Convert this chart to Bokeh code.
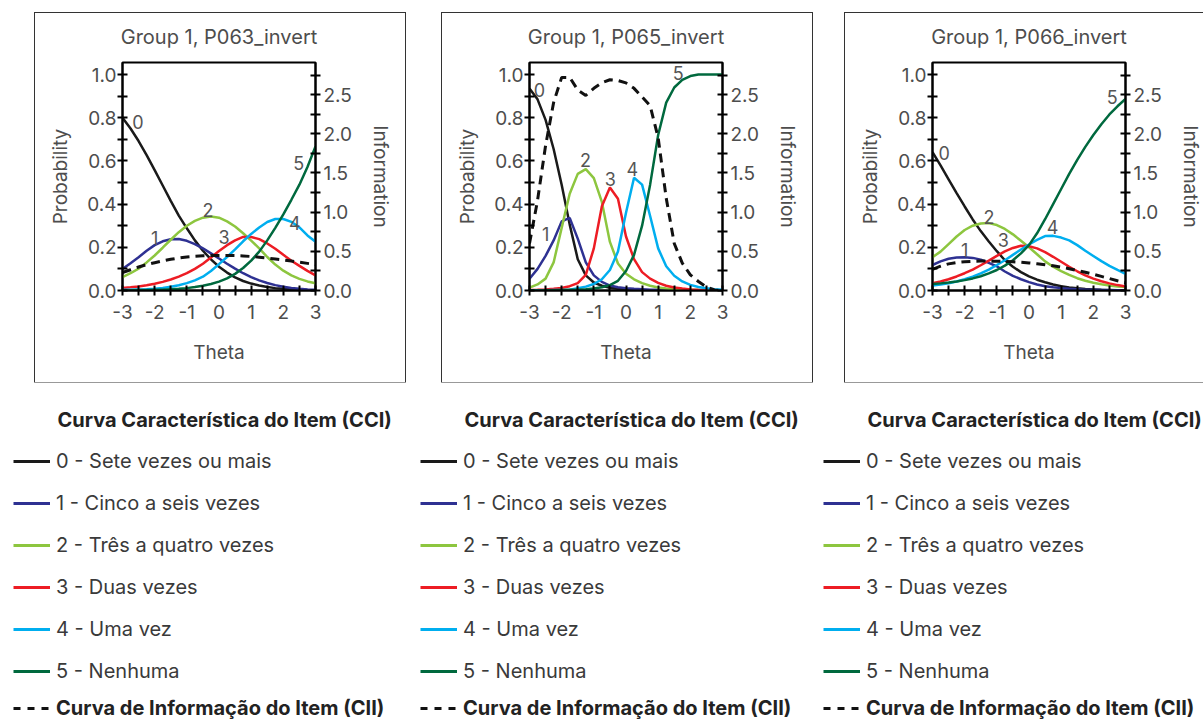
from bokeh.plotting import figure
from bokeh.models import (Range1d, LinearAxis, Legend, LegendItem, Label,
                          ColumnDataSource, FixedTicker, PrintfTickFormatter, Spacer)
from bokeh.layouts import row, column
from bokeh.core.properties import value
from bokeh.embed import file_html
from bokeh.resources import INLINE

FONT = "Inter"
NAN = float("nan")

# ---------------- data ----------------
theta = [-3.0, -2.75, -2.5, -2.25, -2.0, -1.75, -1.5, -1.25, -1.0, -0.75, -0.5, -0.25,
         0.0, 0.25, 0.5, 0.75, 1.0, 1.25, 1.5, 1.75, 2.0, 2.25, 2.5, 2.75, 3.0]

categories = ["0 - Sete vezes ou mais", "1 - Cinco a seis vezes", "2 - Três a quatro vezes",
              "3 - Duas vezes", "4 - Uma vez", "5 - Nenhuma"]
curve_ids = ["0", "1", "2", "3", "4", "5"]
legend_title = "Curva Característica do Item (CCI)"
info_label = "Curva de Informação do Item (CII)"
item_titles = ["Group 1, P063_invert", "Group 1, P065_invert", "Group 1, P066_invert"]

# P063
p063_cat0 = [0.800, 0.750, 0.692, 0.627, 0.557, 0.486, 0.415, 0.347, 0.288, 0.232, 0.184, 0.144,
             0.110, 0.083, 0.061, 0.044, 0.032, 0.023, 0.016, 0.011, 0.008, 0.005, 0.004, 0.002, 0.001]
p063_cat1 = [0.100, 0.126, 0.154, 0.184, 0.210, 0.228, 0.237, 0.238, 0.230, 0.215, 0.195, 0.172,
             0.148, 0.124, 0.101, 0.080, 0.062, 0.047, 0.035, 0.025, 0.017, 0.012, 0.008, 0.005, 0.003]
p063_cat2 = [0.062, 0.080, 0.101, 0.130, 0.162, 0.198, 0.235, 0.270, 0.300, 0.322, 0.337, 0.343,
             0.337, 0.320, 0.296, 0.265, 0.231, 0.195, 0.155, 0.120, 0.092, 0.070, 0.054, 0.042, 0.034]
p063_cat3 = [0.012, 0.015, 0.019, 0.024, 0.031, 0.040, 0.051, 0.064, 0.080, 0.100, 0.124, 0.153,
             0.183, 0.210, 0.232, 0.248, 0.248, 0.238, 0.218, 0.193, 0.165, 0.138, 0.114, 0.091, 0.070]
p063_cat4 = [0.003, 0.004, 0.005, 0.006, 0.008, 0.012, 0.017, 0.024, 0.034, 0.047, 0.064, 0.090,
             0.122, 0.155, 0.190, 0.228, 0.262, 0.292, 0.317, 0.331, 0.331, 0.318, 0.292, 0.255, 0.226]
p063_cat5 = [0.001, 0.001, 0.002, 0.002, 0.003, 0.004, 0.006, 0.008, 0.011, 0.016, 0.022, 0.030,
             0.041, 0.056, 0.077, 0.104, 0.138, 0.180, 0.232, 0.290, 0.352, 0.420, 0.490, 0.572, 0.667]
p063_info = [0.230, 0.265, 0.300, 0.330, 0.355, 0.378, 0.398, 0.415, 0.428, 0.437, 0.443, 0.446,
             0.447, 0.447, 0.445, 0.441, 0.434, 0.425, 0.414, 0.402, 0.390, 0.376, 0.362, 0.346, 0.330]
p063_label_theta = [-2.52, -2.00, -0.34, 0.16, 2.36, 2.48]
p063_label_prob = [0.779, 0.244, 0.374, 0.250, 0.312, 0.590]

# P065
p065_cat0 = [0.935, 0.885, 0.790, 0.655, 0.490, 0.305, 0.145, 0.070, 0.037, 0.022, 0.013, 0.008,
             0.005, 0.003, 0.002, 0.001, 0.001, 0.0, 0.0, 0.0, 0.0, 0.0, 0.0, 0.0, 0.0]
p065_cat1 = [0.054, 0.100, 0.160, 0.232, 0.320, 0.336, 0.240, 0.130, 0.070, 0.040, 0.023, 0.015,
             0.011, 0.008, 0.006, 0.004, 0.003, 0.002, 0.001, 0.001, 0.001, 0.0, 0.0, 0.0, 0.0]
p065_cat2 = [0.013, 0.028, 0.055, 0.130, 0.290, 0.448, 0.540, 0.562, 0.520, 0.410, 0.225, 0.125,
             0.078, 0.052, 0.034, 0.022, 0.014, 0.009, 0.006, 0.004, 0.003, 0.002, 0.001, 0.001, 0.0]
p065_cat3 = [0.002, 0.003, 0.005, 0.008, 0.012, 0.020, 0.034, 0.072, 0.195, 0.390, 0.477, 0.425,
             0.250, 0.145, 0.085, 0.055, 0.035, 0.022, 0.014, 0.009, 0.005, 0.003, 0.002, 0.001, 0.001]
p065_cat4 = [0.001, 0.001, 0.001, 0.002, 0.002, 0.004, 0.010, 0.018, 0.030, 0.052, 0.095, 0.180,
             0.360, 0.522, 0.490, 0.345, 0.195, 0.112, 0.068, 0.042, 0.026, 0.016, 0.010, 0.006, 0.003]
p065_cat5 = [0.0, 0.0, 0.001, 0.001, 0.002, 0.003, 0.004, 0.006, 0.009, 0.015, 0.025, 0.045,
             0.090, 0.165, 0.300, 0.490, 0.720, 0.870, 0.940, 0.975, 0.993, 1.0, 1.0, 1.0, 1.0]
p065_info = [0.60, 1.15, 1.85, 2.40, 2.72, 2.72, 2.56, 2.49, 2.58, 2.65, 2.69, 2.68,
             2.65, 2.58, 2.47, 2.36, 1.95, 1.18, 0.60, 0.35, 0.20, 0.115, 0.045, 0.008, 0.0]
p065_label_theta = [-2.69, -2.50, -1.26, -0.49, 0.20, 1.62]
p065_label_prob = [0.929, 0.262, 0.602, 0.517, 0.563, 1.006]

# P066
p066_cat0 = [0.640, 0.579, 0.515, 0.451, 0.389, 0.329, 0.275, 0.227, 0.182, 0.140, 0.110, 0.085,
             0.065, 0.050, 0.038, 0.028, 0.020, 0.014, 0.010, 0.007, 0.005, 0.003, 0.002, 0.001, 0.001]
p066_cat1 = [0.118, 0.135, 0.147, 0.153, 0.154, 0.151, 0.143, 0.128, 0.112, 0.088, 0.068, 0.052,
             0.039, 0.028, 0.020, 0.015, 0.011, 0.008, 0.006, 0.004, 0.003, 0.002, 0.001, 0.001, 0.0]
p066_cat2 = [0.154, 0.180, 0.215, 0.250, 0.280, 0.300, 0.310, 0.312, 0.303, 0.285, 0.260, 0.230,
             0.200, 0.168, 0.135, 0.110, 0.090, 0.072, 0.057, 0.045, 0.036, 0.029, 0.023, 0.019, 0.016]
p066_cat3 = [0.034, 0.042, 0.052, 0.065, 0.080, 0.097, 0.117, 0.138, 0.160, 0.181, 0.197, 0.207,
             0.205, 0.195, 0.178, 0.156, 0.133, 0.110, 0.089, 0.070, 0.055, 0.043, 0.033, 0.025, 0.019]
p066_cat4 = [0.023, 0.028, 0.034, 0.042, 0.052, 0.064, 0.079, 0.097, 0.118, 0.140, 0.165, 0.190,
             0.213, 0.234, 0.252, 0.253, 0.245, 0.232, 0.210, 0.184, 0.160, 0.136, 0.114, 0.095, 0.077]
p066_cat5 = [0.030, 0.033, 0.037, 0.042, 0.048, 0.056, 0.066, 0.079, 0.095, 0.115, 0.140, 0.172,
             0.210, 0.265, 0.330, 0.400, 0.470, 0.540, 0.605, 0.665, 0.720, 0.770, 0.815, 0.853, 0.887]
p066_info = [0.270, 0.310, 0.340, 0.358, 0.368, 0.373, 0.375, 0.375, 0.374, 0.371, 0.366, 0.360,
             0.352, 0.342, 0.330, 0.315, 0.298, 0.278, 0.256, 0.232, 0.207, 0.180, 0.152, 0.124, 0.098]
p066_label_theta = [-2.64, -2.00, -1.24, -0.80, 0.73, 2.59]
p066_label_prob = [0.636, 0.188, 0.340, 0.235, 0.293, 0.895]

COLORS = ["#1a1a1a", "#2e3192", "#8dc63f", "#ed1c24", "#00aeef", "#00693e"]
TXT = "#4d4d4d"
INFO_DASH = "9 6"


def style_axis(ax, label, lstand, astand):
    ax.axis_label = label
    ax.axis_line_color = "black"
    ax.axis_line_width = 2
    ax.major_tick_in = 5
    ax.major_tick_out = 5
    ax.minor_tick_in = 5
    ax.minor_tick_out = 5
    ax.major_tick_line_width = 2
    ax.minor_tick_line_width = 2
    ax.major_tick_line_color = "black"
    ax.minor_tick_line_color = "black"
    ax.major_label_text_font = FONT
    ax.major_label_text_font_size = "19px"
    ax.major_label_text_color = TXT
    ax.major_label_standoff = lstand
    ax.axis_label_text_font = FONT
    ax.axis_label_text_font_size = "19px"
    ax.axis_label_text_font_style = "normal"
    ax.axis_label_text_color = TXT
    ax.axis_label_standoff = astand


def make_panel(title, cats, info, lab_t, lab_p, right_border, outline_css):
    p = figure(frame_width=193, frame_height=228, x_range=Range1d(-3, 3),
               y_range=Range1d(0, 1.0556), min_border_left=87, min_border_right=right_border,
               min_border_top=49, min_border_bottom=92, output_backend="svg",
               toolbar_location=None, title=title, styles=outline_css)
    p.extra_y_ranges = {"info": Range1d(0, 2.91)}
    p.xgrid.visible = False
    p.ygrid.visible = False
    p.outline_line_color = "black"
    p.outline_line_width = 2
    p.background_fill_color = "white"
    p.border_fill_color = "white"

    p.title.text_font = FONT
    p.title.text_font_size = "20px"
    p.title.text_font_style = "normal"
    p.title.text_color = TXT
    p.title.align = "center"
    p.title.vertical_align = "top"
    p.title.standoff = 23

    xax = p.xaxis[0]
    xax.ticker = FixedTicker(ticks=[-3, -2, -1, 0, 1, 2, 3],
                             minor_ticks=[-2.5, -1.5, -0.5, 0.5, 1.5, 2.5])
    xax.formatter = PrintfTickFormatter(format="%d")
    style_axis(xax, "Theta", 9, 19)

    yax = p.yaxis[0]
    yax.ticker = FixedTicker(ticks=[0, 0.2, 0.4, 0.6, 0.8, 1.0],
                             minor_ticks=[0.1, 0.3, 0.5, 0.7, 0.9])
    yax.formatter = PrintfTickFormatter(format="%.1f")
    style_axis(yax, "Probability", 1, 12)

    rax = LinearAxis(y_range_name="info",
                     ticker=FixedTicker(ticks=[0, 0.5, 1.0, 1.5, 2.0, 2.5],
                                        minor_ticks=[0.25, 0.75, 1.25, 1.75, 2.25, 2.75]),
                     formatter=PrintfTickFormatter(format="%.1f"))
    style_axis(rax, "Information", 3, 14)
    p.add_layout(rax, "right")

    data = {"theta": theta, "info": info}
    for k, c in enumerate(cats):
        data["c%d" % k] = c
    src = ColumnDataSource(data)

    for k in range(6):
        p.line("theta", "c%d" % k, source=src, line_color=COLORS[k], line_width=2.5)
    p.line("theta", "info", source=src, y_range_name="info", line_color="#111111",
           line_width=3, line_dash=INFO_DASH)

    p.text(x=lab_t, y=lab_p, text=curve_ids, text_font=value(FONT), text_font_size="18px",
           text_color="#555555", text_align="center", text_baseline="middle")
    return p


box_css = {"outline": "1.5px solid #333333"}
p1 = make_panel(item_titles[0],
                [p063_cat0, p063_cat1, p063_cat2, p063_cat3, p063_cat4, p063_cat5], p063_info,
                p063_label_theta, p063_label_prob, 90, box_css)
p2 = make_panel(item_titles[1],
                [p065_cat0, p065_cat1, p065_cat2, p065_cat3, p065_cat4, p065_cat5], p065_info,
                p065_label_theta, p065_label_prob, 90, box_css)
p3 = make_panel(item_titles[2],
                [p066_cat0, p066_cat1, p066_cat2, p066_cat3, p066_cat4, p066_cat5], p066_info,
                p066_label_theta, p066_label_prob, 78, box_css)

# ---------------- legends (one strip under the three charts) ----------------
LEG_H = 340
lf = figure(width=1203, height=LEG_H, x_range=Range1d(0, 1), y_range=Range1d(0, 1),
            x_axis_type=None, y_axis_type=None, min_border=0, toolbar_location=None,
            output_backend="svg")
lf.xgrid.visible = False
lf.ygrid.visible = False
lf.outline_line_color = None
lf.background_fill_color = "white"
lf.border_fill_color = "white"

common = dict(orientation="vertical", glyph_width=37, label_standoff=6, spacing=16,
              padding=0, margin=0, border_line_color=None, background_fill_alpha=0,
              label_text_font=FONT, label_text_font_size="20px")

legend_x = [13, 420, 823]
for lx in legend_x:
    # legend-only renderers (no visible data)
    rends = [lf.line(x=[NAN], y=[NAN], line_color=COLORS[k], line_width=3) for k in range(6)]
    info_r = lf.line(x=[NAN], y=[NAN], line_color="#111111", line_width=3, line_dash="7 7")
    lf.add_layout(Label(x=lx + 44, y=LEG_H - 37, x_units="screen", y_units="screen",
                        text=legend_title, text_font=FONT, text_font_size="20px",
                        text_font_style="bold", text_color="#222222",
                        text_baseline="middle", text_align="left"))
    leg = Legend(items=[LegendItem(label=categories[k], renderers=[rends[k]]) for k in range(6)],
                 location=(lx, LEG_H - 302), label_text_color="#3a3a3a",
                 glyph_height=26, label_height=26, **common)
    lf.add_layout(leg)
    leg2 = Legend(items=[LegendItem(label=info_label, renderers=[info_r])],
                  location=(lx, 2), label_text_color="#222222", label_text_font_style="bold",
                  glyph_height=20, label_height=20, **common)
    lf.add_layout(leg2)

layout = column(Spacer(height=13),
                row(Spacer(width=35), p1, Spacer(width=37), p2, Spacer(width=33), p3),
                lf)

open("out.html", "w").write(file_html(layout, INLINE))
